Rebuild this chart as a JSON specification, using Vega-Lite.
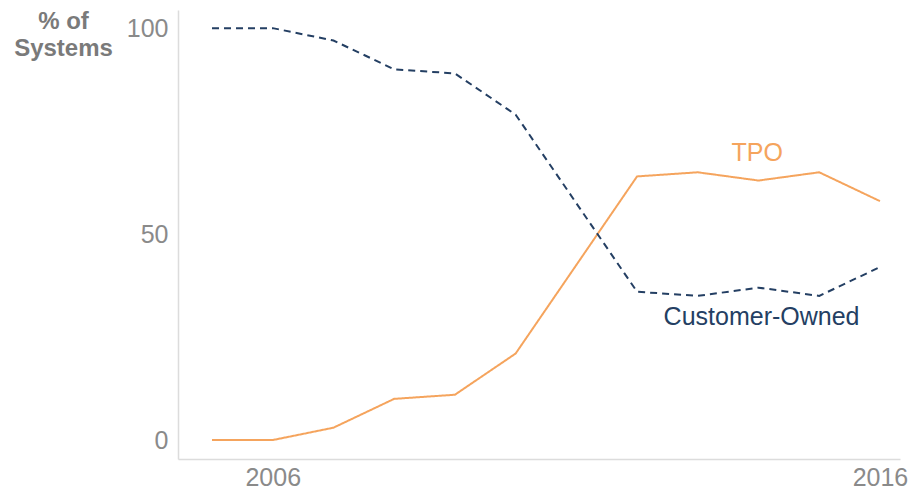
{
  "$schema": "https://vega.github.io/schema/vega-lite/v6.json",
  "width": 722,
  "height": 449,
  "autosize": {"type": "none"},
  "padding": {"left": 178, "top": 10, "right": 9, "bottom": 33},
  "background": "white",
  "config": {"view": {"stroke": null}, "font": "Liberation Sans"},
  "datasets": {
    "series": [
      {"year": 2005, "value": 0, "series": "TPO"},
      {"year": 2006, "value": 0, "series": "TPO"},
      {"year": 2007, "value": 3, "series": "TPO"},
      {"year": 2008, "value": 10, "series": "TPO"},
      {"year": 2009, "value": 11, "series": "TPO"},
      {"year": 2010, "value": 21, "series": "TPO"},
      {"year": 2012, "value": 64, "series": "TPO"},
      {"year": 2013, "value": 65, "series": "TPO"},
      {"year": 2014, "value": 63, "series": "TPO"},
      {"year": 2015, "value": 65, "series": "TPO"},
      {"year": 2016, "value": 58, "series": "TPO"},
      {"year": 2005, "value": 100, "series": "Customer-Owned"},
      {"year": 2006, "value": 100, "series": "Customer-Owned"},
      {"year": 2007, "value": 97, "series": "Customer-Owned"},
      {"year": 2008, "value": 90, "series": "Customer-Owned"},
      {"year": 2009, "value": 89, "series": "Customer-Owned"},
      {"year": 2010, "value": 79, "series": "Customer-Owned"},
      {"year": 2012, "value": 36, "series": "Customer-Owned"},
      {"year": 2013, "value": 35, "series": "Customer-Owned"},
      {"year": 2014, "value": 37, "series": "Customer-Owned"},
      {"year": 2015, "value": 35, "series": "Customer-Owned"},
      {"year": 2016, "value": 42, "series": "Customer-Owned"}
    ],
    "labels": [
      {"year": 2013.98, "value": 69.6, "label": "TPO", "series": "TPO"},
      {"year": 2014.05, "value": 29.8, "label": "Customer-Owned", "series": "Customer-Owned"}
    ]
  },
  "encoding": {
    "x": {
      "field": "year", "type": "quantitative",
      "scale": {"domain": [2004.44, 2016.33], "nice": false, "zero": false},
      "axis": {
        "values": [2006, 2016], "format": "d", "title": null, "grid": false,
        "ticks": false, "domainColor": "#dcdcdc", "domainWidth": 1.5,
        "labelColor": "#8a8a8a", "labelFontSize": 25, "labelPadding": 6,
        "labelFlush": false
      }
    },
    "y": {
      "field": "value", "type": "quantitative",
      "scale": {"domain": [-4.6, 104.4], "nice": false, "zero": false},
      "axis": {
        "values": [0, 50, 100], "grid": false, "ticks": false,
        "domainColor": "#dcdcdc", "domainWidth": 1.5,
        "labelColor": "#8a8a8a", "labelFontSize": 25, "labelPadding": 10,
        "title": ["% of", "Systems"], "titleAngle": 0, "titleAlign": "center",
        "titleBaseline": "alphabetic", "titleX": -115, "titleY": 18,
        "titleFontSize": 24, "titleFontWeight": "bold", "titleColor": "#7a7a7a",
        "titleLineHeight": 27
      }
    },
    "color": {
      "field": "series", "type": "nominal",
      "scale": {"domain": ["TPO", "Customer-Owned"], "range": ["#F5A45D", "#243F63"]},
      "legend": null
    }
  },
  "layer": [
    {
      "data": {"name": "series"},
      "mark": {"type": "line", "strokeWidth": 2},
      "encoding": {
        "strokeDash": {
          "field": "series", "type": "nominal",
          "scale": {"domain": ["TPO", "Customer-Owned"], "range": [[1, 0], [7, 5]]},
          "legend": null
        }
      }
    },
    {
      "data": {"name": "labels"},
      "mark": {"type": "text", "fontSize": 25, "align": "center", "baseline": "middle"},
      "encoding": {"text": {"field": "label"}}
    }
  ]
}
